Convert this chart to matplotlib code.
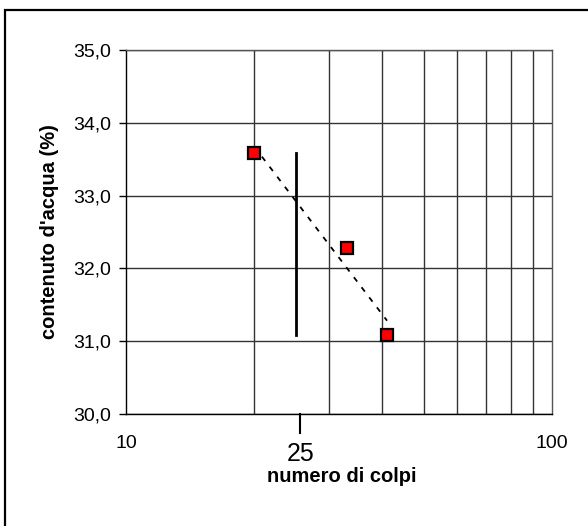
import numpy as np
import matplotlib
matplotlib.use("Agg")
import matplotlib.pyplot as plt
from matplotlib.patches import Rectangle
from matplotlib.ticker import FixedLocator, NullFormatter

plt.rcParams['font.family'] = ['Liberation Sans', 'DejaVu Sans']

# data
colpi = np.array([20, 33, 41])
acqua = np.array([33.59, 32.28, 31.09])
y_ticks = [30, 31, 32, 33, 34, 35]
y_ticklabels = ['30,0', '31,0', '32,0', '33,0', '34,0', '35,0']
x_ticks = [10, 100]
x_ticklabels = ['10', '100']
x_grid = [20, 30, 40, 50, 60, 70, 80, 90]
colpi_ref = 25

W, H = 588, 526
fig = plt.figure(figsize=(W / 100, H / 100), dpi=100)
ax = fig.add_axes([126 / W, 1 - 414 / H, (552 - 126) / W, (414 - 50) / H])

ax.set_xscale('log')
ax.set_xlim(10, 100)
ax.set_ylim(30, 35)

# y axis
ax.set_yticks(y_ticks)
ax.set_yticklabels(y_ticklabels)
ax.tick_params(axis='y', direction='out', length=5, width=1, color='black',
               labelsize=14, pad=6)
ax.yaxis.grid(True, color='#333333', lw=1)

# x axis
ax.xaxis.set_major_locator(FixedLocator(x_ticks))
ax.set_xticklabels(x_ticklabels)
ax.xaxis.set_minor_locator(FixedLocator(x_grid))
ax.xaxis.set_minor_formatter(NullFormatter())
ax.tick_params(axis='x', which='both', length=0, labelsize=14, pad=15)
ax.xaxis.grid(True, which='minor', color='#333333', lw=1)
ax.set_axisbelow(True)

for s in ['left', 'bottom']:
    ax.spines[s].set_color('black')
    ax.spines[s].set_linewidth(1)
for s in ['top', 'right']:
    ax.spines[s].set_color('#555555')
    ax.spines[s].set_linewidth(1)

# trend line (linear in log of number of blows)
coef = np.polyfit(np.log10(colpi), acqua, 1)
xs = np.array([colpi.min(), colpi.max()])
ax.plot(xs, np.polyval(coef, np.log10(xs)), color='black', lw=1.3,
        ls=(0, (3, 4)), zorder=3)

# vertical reference at 25 blows
ax.plot([colpi_ref, colpi_ref], [acqua.min(), acqua.max()], color='black', lw=2, zorder=3)

ax.plot(colpi, acqua, ls='none', marker='s', markersize=8.5, markerfacecolor='red',
        markeredgecolor='black', markeredgewidth=1.6, zorder=4)

# 25 tick and label below the axis
trans = ax.get_xaxis_transform()
ax.plot([colpi_ref * 1.025, colpi_ref * 1.025], [0, -19 / 364], color='black', lw=1.5,
        transform=trans, clip_on=False)
ax.text(colpi_ref * 1.03, -40 / 364, str(colpi_ref), transform=trans, ha='center',
        va='center', fontsize=18)

ax.set_xlabel('numero di colpi', fontsize=14.5, fontweight='bold', va='center')
ax.xaxis.set_label_coords((341.7 - 126) / 426, (414 - 477) / 364)
ax.set_ylabel("contenuto d'acqua (%)", fontsize=14.5, fontweight='bold', va='center')
ax.yaxis.set_label_coords((50 - 126) / 426, (414 - 231.5) / 364)

# outer frame
fig.patches.append(Rectangle((4.5 / W, -0.2), 1.5, 1.2 - 10 / H, transform=fig.transFigure,
                             fill=False, edgecolor='black', lw=1.6))

fig.savefig('out.png', dpi=100)
